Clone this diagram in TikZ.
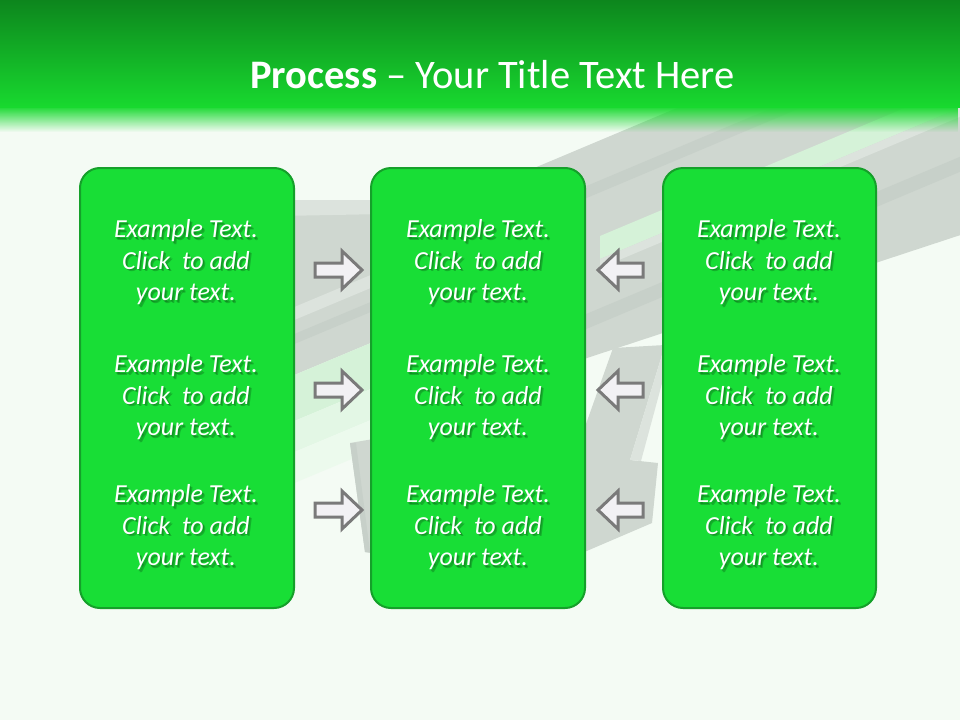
\documentclass[tikz,border=0pt]{standalone}
\usepackage{fontspec}
\newfontfamily\carl{Carlito}
\usetikzlibrary{fadings}
\definecolor{bgc}{HTML}{F4FBF4}
\definecolor{hdrtop}{HTML}{0D861D}
\definecolor{hdrbot}{HTML}{18D92F}
\definecolor{boxfill}{HTML}{18DE36}
\definecolor{boxline}{HTML}{15A02A}
\definecolor{band}{HTML}{CFD7D0}
\definecolor{banddark}{HTML}{C7D0C9}
\definecolor{bandlight}{HTML}{DCE3DD}
\definecolor{palegreen}{HTML}{D5F2D8}
\definecolor{palegreen2}{HTML}{E3F7E5}
\definecolor{palegreen3}{HTML}{ECFAED}
\definecolor{arrfill}{HTML}{F2F1F4}
\definecolor{arrline}{HTML}{7A7A7A}
\definecolor{shadowc}{HTML}{0A4A12}
\tikzfading[name=hdrfade, top color=transparent!0, bottom color=transparent!100]
\tikzset{
  stage/.style={draw=boxline, line width=2pt, fill=boxfill, rounded corners=20pt, inner sep=0pt},
  ex/.style={align=center, text=white, inner sep=0pt, font=\carl\itshape\fontsize{26}{31.5}\selectfont},
  exshadow/.style={ex, text=shadowc, opacity=0.3},
  blockarr/.style={draw=arrline, fill=arrfill, line width=3pt, line join=miter},
  rarr/.pic={\path[blockarr] (-47,-7) -- (-20,-7) -- (-20,-19) -- (0,0) -- (-20,19) -- (-20,7) -- (-47,7) -- cycle;},
  larr/.pic={\path[blockarr] (45,-7) -- (20,-7) -- (20,-19) -- (0,0) -- (20,19) -- (20,7) -- (45,7) -- cycle;},
}
\newcommand{\extext}{Example Text.\\Click\ \ to add\\your text.}
\begin{document}
\begin{tikzpicture}[x=1pt, y=-1pt]
\useasboundingbox (0,0) rectangle (960,720);
\fill[bgc] (0,0) rectangle (960,720);
% decorative background bands
\fill[band] (280,200) -- (385,200) -- (385,337) -- (280,381) -- cycle;
\fill[bandlight] (280,200) -- (385,200) -- (385,214) -- (280,216) -- cycle;
\fill[bandlight] (280,313) -- (385,269) -- (385,282) -- (280,326) -- cycle;
\fill[banddark] (280,340) -- (385,296) -- (385,306) -- (280,350) -- cycle;
\fill[palegreen] (280,381) -- (385,337) -- (385,383) -- (280,427) -- cycle;
\fill[palegreen2] (280,427) -- (385,383) -- (385,414) -- (280,458) -- cycle;
\fill[palegreen3] (280,458) -- (385,414) -- (385,445) -- (280,489) -- cycle;
\fill[band] (520,174) -- (1000,-28) -- (1000,222) -- (587,358) -- (520,380) -- cycle;
\fill[banddark] (520,214) -- (1000,12) -- (1000,24) -- (520,226) -- cycle;
\fill[palegreen] (600,236) -- (1000,68) -- (1000,91) -- (600,259) -- cycle;
\fill[bandlight] (600,259) -- (1000,91) -- (1000,100) -- (600,268) -- cycle;
\fill[banddark] (560,325) -- (1000,140) -- (1000,155) -- (560,340) -- cycle;
\fill[band] (575,455) -- (613,348) -- (665,345) -- (630,460) -- (658,463) -- (652,523) -- (575,556) -- cycle;
\fill[bandlight] (665,345) -- (671,350) -- (641,461) -- (630,460) -- cycle;
\fill[band] (350,443) -- (385,437) -- (385,556) -- (365,552) -- cycle;
\fill[banddark] (350,443) -- (356,443) -- (370,552) -- (365,552) -- cycle;
% header
\shade[top color=hdrtop, bottom color=hdrbot] (0,0) rectangle (960,107);
\fill[hdrbot, path fading=hdrfade] (0,106) rectangle (960,132);
\node[anchor=base, text=white, inner sep=0pt, font=\carl\fontsize{40.5}{48}\selectfont] (title) at (492.5,88) {\textbf{Process} – Your Title Text Here};
% boxes
\node[stage, minimum width=214pt, minimum height=440pt] (b1) at (187,388) {};
\node[stage, minimum width=214pt, minimum height=440pt] (b2) at (478,388) {};
\node[stage, minimum width=213pt, minimum height=440pt] (b3) at (769.5,388) {};
% texts
\foreach \cx/\col in {186/1, 478/2, 769/3}{
  \foreach \cy/\row in {262.25/1, 397.25/2, 527.25/3}{
    \node[exshadow] (s\col\row) at (\cx+1.2,\cy+1.6) {\extext};
    \node[exshadow] (r\col\row) at (\cx+2.4,\cy+2.8) {\extext};
    \node[ex] (t\col\row) at (\cx,\cy) {\extext};
  }
}
% arrows
\pic (ra1) at (362,270) {rarr};
\pic (ra2) at (362,390) {rarr};
\pic (ra3) at (362,510) {rarr};
\pic (la1) at (598,270) {larr};
\pic (la2) at (598,390) {larr};
\pic (la3) at (598,510) {larr};
\end{tikzpicture}
\end{document}
